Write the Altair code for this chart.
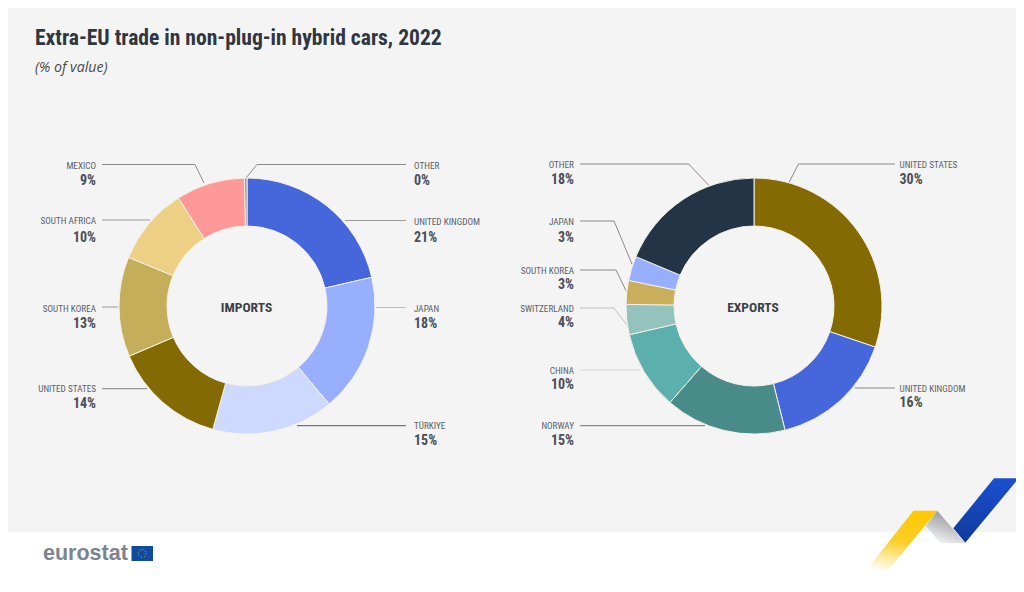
import altair as alt
import pandas as pd

# ---- data ----
import_names = ["UNITED KINGDOM", "JAPAN", "TÜRKIYE", "UNITED STATES", "SOUTH KOREA", "SOUTH AFRICA", "MEXICO", "OTHER"]
import_share = [21.4, 17.5, 15.4, 14.3, 12.6, 9.8, 8.7, 0.3]
import_label = ["21%", "18%", "15%", "14%", "13%", "10%", "9%", "0%"]
import_color = ["#4666DB", "#98AEFE", "#CDD9FF", "#846A02", "#C4AE5A", "#EDD084", "#FE9899", "#8C8C8C"]

export_names = ["UNITED STATES", "UNITED KINGDOM", "NORWAY", "CHINA", "SWITZERLAND", "SOUTH KOREA", "JAPAN", "OTHER"]
export_share = [30.2, 15.9, 15.3, 10.0, 3.8, 3.0, 3.1, 18.7]
export_label = ["30%", "16%", "15%", "10%", "4%", "3%", "3%", "18%"]
export_color = ["#846A02", "#4666DB", "#498B88", "#5BAFAD", "#94C3BE", "#C9AE5C", "#98AEFE", "#233446"]

FONT = "Roboto Condensed, Liberation Sans"
W, H = 1024, 592
xs = alt.Scale(domain=[0, W], range=[0, W], nice=False, zero=False)
ys = alt.Scale(domain=[0, H], range=[0, H], nice=False, zero=False)
X = alt.X("x:Q", scale=xs, axis=None)
Y = alt.Y("y:Q", scale=ys, axis=None)


def donut(names, share, colors, cx, cy):
    df = pd.DataFrame({"name": names, "share": share, "color": colors})
    df["end"] = df["share"].cumsum()
    df["start"] = df["end"] - df["share"]
    df["x"] = cx
    df["y"] = cy
    return alt.Chart(df).mark_arc(radius=128, radius2=80, stroke="#F4F1E6", strokeWidth=1).encode(
        x=X, y=Y,
        theta=alt.Theta("start:Q", scale=alt.Scale(domain=[0, 100], range=[0, 6.28318530718])),
        theta2="end:Q",
        color=alt.Color("color:N", scale=None),
    )


def anno(names, labels, rows):
    leader_rows, name_rows, pct_rows = [], [], []
    for n, lab, (tx, align, ny, py, pts, col) in zip(names, labels, rows):
        for i, (px, pyy) in enumerate(pts):
            leader_rows.append({"id": n + str(tx), "i": i, "x": px, "y": pyy, "c": col})
        name_rows.append({"x": tx, "y": ny, "t": n, "a": align})
        pct_rows.append({"x": tx, "y": py, "t": lab, "a": align})
    return leader_rows, name_rows, pct_rows


import_rows = [
    (414, "left", 220.5, 236.5, [(406, 220.5), (345, 220.5)], "#9A9A9A"),
    (414, "left", 308, 322.5, [(406, 307.5), (376, 307.5)], "#BDBDBD"),
    (414, "left", 425, 440, [(406, 425.7), (297, 425.7)], "#555555"),
    (96, "right", 388, 402.7, [(102, 388.7), (147, 388.7)], "#808080"),
    (96, "right", 308, 322.5, [(102, 307), (118, 307)], "#9A9A9A"),
    (96, "right", 220, 236.5, [(102, 220), (150, 220)], "#9A9A9A"),
    (96, "right", 164.5, 180, [(102, 164.5), (195, 164.5), (204, 183)], "#8A8A8A"),
    (414, "left", 164.5, 180, [(406, 164.5), (257, 164.5), (246, 178)], "#8A8A8A"),
]
export_rows = [
    (899.5, "left", 164, 179.3, [(895, 164), (798.5, 164), (789, 182.5)], "#8A8A8A"),
    (899.5, "left", 388, 402.3, [(895, 388), (854.5, 388)], "#8A8A8A"),
    (574, "right", 425, 440, [(580, 425.7), (705, 425.7)], "#6E6E6E"),
    (574, "right", 369.7, 383.7, [(580, 370), (640, 370)], "#D8D8D8"),
    (574, "right", 308, 322.3, [(580, 308), (614, 308), (627, 325)], "#BDBDBD"),
    (574, "right", 270, 284, [(580, 270), (616, 270), (626, 290.7)], "#8A8A8A"),
    (574, "right", 221, 236.7, [(580, 221), (614, 221), (632, 264)], "#8A8A8A"),
    (574, "right", 164, 179.3, [(580, 164), (688.7, 164), (708.5, 185)], "#8A8A8A"),
]

l1, n1, p1 = anno(import_names, import_label, import_rows)
l2, n2, p2 = anno(export_names, export_label, export_rows)
leaders = pd.DataFrame(l1 + l2)
names_df = pd.DataFrame(n1 + n2)
pcts_df = pd.DataFrame(p1 + p2)


def text_layer(df, align, **kw):
    return alt.Chart(df[df["a"] == align]).mark_text(align=align, baseline="middle", font=FONT, dy=1, **kw).encode(
        x=X, y=Y, text="t:N"
    )


panel = alt.Chart(pd.DataFrame({"x": [1.5], "x2": [1019.5], "y": [2.5], "y2": [532]})).mark_rect(
    color="#F4F4F4"
).encode(x=X, x2="x2:Q", y=Y, y2="y2:Q")

leader_layer = alt.Chart(leaders).mark_line(strokeWidth=1).encode(
    x=X, y=Y, detail="id:N", order="i:Q", color=alt.Color("c:N", scale=None)
)

title = alt.Chart(pd.DataFrame({"x": [35], "y": [39], "t": ["Extra-EU trade in non-plug-in hybrid cars, 2022"]})).mark_text(
    align="left", baseline="middle", font=FONT, fontSize=21.6, fontWeight="bold", color="#2F3640"
).encode(x=X, y=Y, text="t:N")
subtitle = alt.Chart(pd.DataFrame({"x": [35], "y": [68], "t": ["(% of value)"]})).mark_text(
    align="left", baseline="middle", font="Open Sans", fontSize=14.2, fontStyle="italic", color="#4A4A4A"
).encode(x=X, y=Y, text="t:N")

centres = alt.Chart(pd.DataFrame({"x": [246.5, 753], "y": [307.5, 307.5], "t": ["IMPORTS", "EXPORTS"]})).mark_text(
    align="center", baseline="middle", font=FONT, fontSize=13.5, fontWeight="bold", color="#3A3F47"
).encode(x=X, y=Y, text="t:N")

logo = alt.Chart(pd.DataFrame({"x": [43], "y": [553.5], "t": ["eurostat"]})).mark_text(
    align="left", baseline="middle", font="Liberation Sans", fontSize=21.5, fontWeight="bold", color="#7C8490"
).encode(x=X, y=Y, text="t:N")
flag = alt.Chart(pd.DataFrame({"x": [131.5], "x2": [153], "y": [546], "y2": [561]})).mark_rect(color="#0F4C9E").encode(
    x=X, x2="x2:Q", y=Y, y2="y2:Q"
)
stars = alt.Chart(pd.DataFrame({"x": [142.2], "y": [553.5]})).mark_point(
    shape="circle", size=60, filled=False, stroke="#D8C75A", strokeWidth=1, strokeDash=[1, 2], opacity=0.9
).encode(x=X, y=Y)


def ribbon(rows, stops, **grad):
    df = pd.DataFrame(rows, columns=["y", "x", "x2"])
    fill = alt.Gradient(gradient="linear", stops=[alt.GradientStop(offset=o, color=c) for o, c in stops], **grad)
    return alt.Chart(df).mark_area(orient="horizontal", color=fill).encode(
        y=Y, x=X, x2="x2:Q"
    )


grey = ribbon(
    [(510.7, 937.3, 937.3), (525.7, 925.7, 950.2), (543.3, 940.7, 965)],
    [(0, "#8F9094"), (0.55, "#C4C5C8"), (1, "#F6F6F6")],
    x1=0.7, x2=0.3, y1=0, y2=1,
)
yellow = ribbon(
    [(510.7, 913.3, 937.3), (573.3, 864, 885.7)],
    [(0, "#FFC800"), (0.5, "#FBCF2A"), (1, "#FFFFFF")],
    x1=0.6, x2=0.4, y1=0, y2=1,
)
blue = ribbon(
    [(478.3, 994, 1018.7), (528.3, 953.3, 977.2), (542.7, 965.3, 965.3)],
    [(0, "#1A4FD0"), (1, "#103A9A")],
    x1=0, x2=0, y1=0, y2=1,
)

chart = alt.layer(
    panel,
    grey, yellow, blue,
    leader_layer,
    donut(import_names, import_share, import_color, 247, 306),
    donut(export_names, export_share, export_color, 754, 306),
    title, subtitle, centres,
    text_layer(names_df, "left", fontSize=9.2, color="#5A5F66"),
    text_layer(names_df, "right", fontSize=9.2, color="#5A5F66"),
    text_layer(pcts_df, "left", fontSize=14, fontWeight="bold", color="#4A4F56"),
    text_layer(pcts_df, "right", fontSize=14, fontWeight="bold", color="#4A4F56"),
    logo, flag, stars,
).properties(
    width=W, height=H,
    padding={"left": -8, "top": -8, "right": -8, "bottom": -8},
    autosize=alt.AutoSizeParams(type="none"),
    background="#FFFFFF",
).configure_view(stroke=None)

chart.save("out.html", embed_options={"renderer": "svg", "actions": False})
